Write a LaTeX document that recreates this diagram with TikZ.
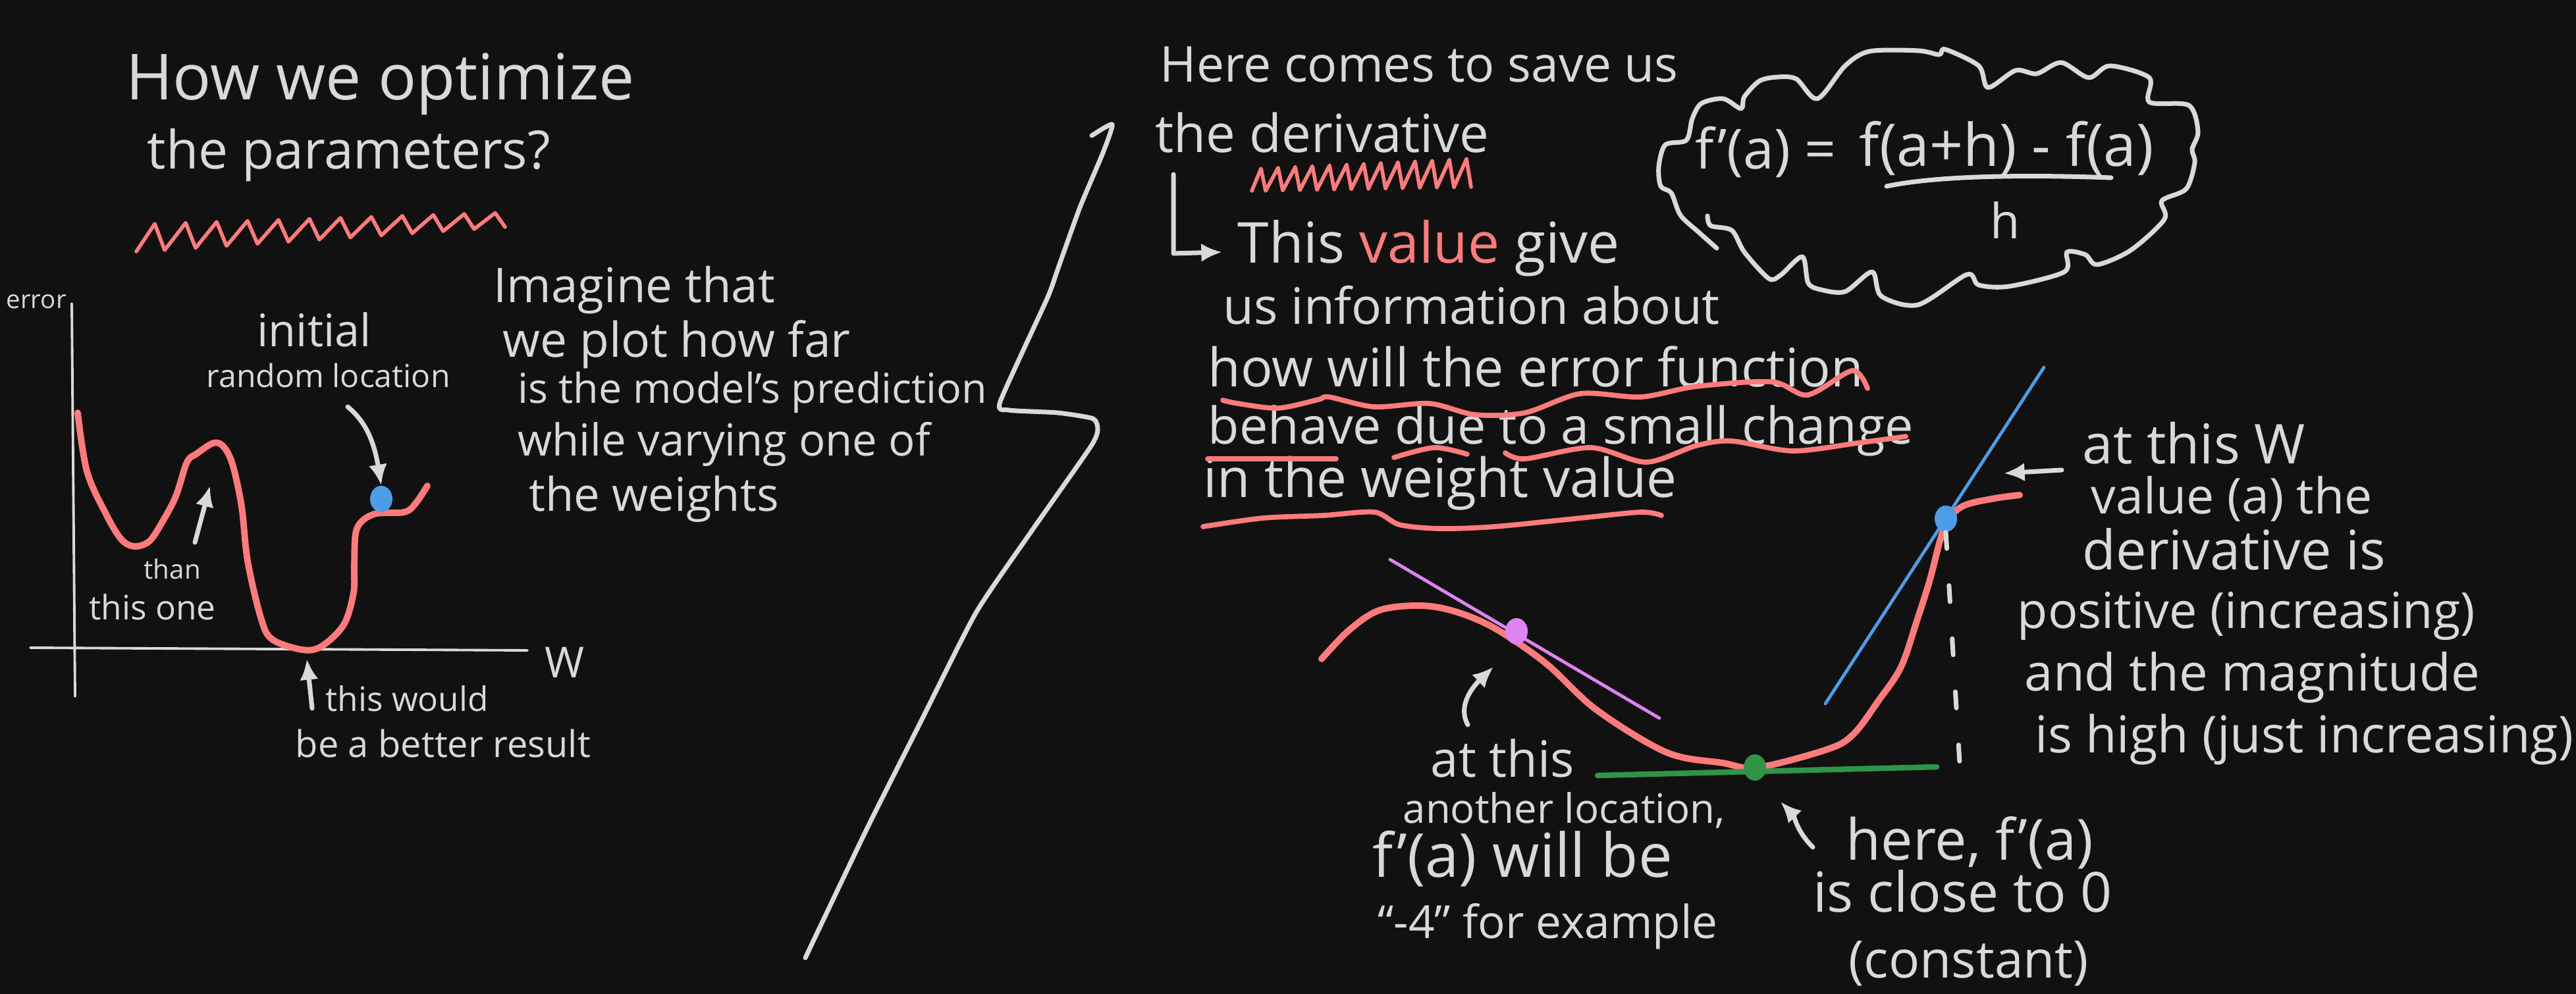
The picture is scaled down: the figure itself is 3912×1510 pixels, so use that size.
\documentclass[tikz,border=0pt]{standalone}
\usepackage{fontspec}
\setmainfont{Open Sans}
\usetikzlibrary{arrows.meta,shapes.geometric}
\definecolor{bg}{HTML}{111111}
\definecolor{fg}{HTML}{D9D9D9}
\definecolor{salmon}{HTML}{FF7B7B}
\definecolor{sky}{HTML}{4E9CE6}
\definecolor{lilac}{HTML}{DD84F2}
\definecolor{leaf}{HTML}{2F9447}
\newlength\pxu
\setlength\pxu{0.01cm}
\newcommand\hw[2]{\resizebox{#1\pxu}{!}{#2}}
\tikzset{
  txt/.style={anchor=base west, inner sep=0pt, text=fg},
  axisline/.style={draw=fg, line width=1.1pt, line cap=round},
  pen/.style={draw=fg, line width=2pt, line cap=round, line join=round},
  arr/.style={pen, -{Latex[length=9pt, width=8pt]}},
  errline/.style={draw=salmon, line width=2.8pt, line cap=round, line join=round},
  scrib/.style={draw=salmon, line width=1.6pt, line cap=round, line join=round},
  wave/.style={draw=salmon, line width=2.2pt, line cap=round, line join=round},
  tangent/.style={line width=1.4pt, line cap=round},
  ball/.style={ellipse, inner sep=0pt, minimum width=0.34cm, minimum height=0.4cm},
}
\begin{document}
\begin{tikzpicture}[x=0.01cm, y=-0.01cm]
  \fill[fill=bg] (0,0) rectangle (3912,1510);
  \useasboundingbox (0,0) rectangle (3912,1510);

  % left half: the question and the error landscape
  \node[txt] (ttlA) at (191,152) {\hw{772}{How we optimize}};
  \node[txt] (ttlB) at (223,257) {\hw{612}{the parameters?}};
  \draw[scrib] (207,382) \foreach \i in {0,...,11} { -- ({235+47*\i},{340-1.5*\i}) -- ({250+47*\i},{380-3.2*\i}) };

  \node[txt] (errlbl) at (9,469) {\hw{91}{error}};
  \node[txt] (wlbl) at (827,1030) {\hw{60}{W}};
  \draw[axisline] (109,461) -- (114,1058);
  \draw[axisline] (46,984) -- (801,988);

  \draw[errline] plot[smooth, tension=0.55] coordinates {
    (118,627) (132,716) (161,781) (184,819) (204,830) (227,822) (247,792)
    (267,754) (284,702) (299,689) (324,673) (339,678) (353,705) (367,770)
    (376,852) (396,938) (413,971) (459,987) (488,982) (522,949) (537,900)
    (538,857) (542,803) (568,781) (614,778) (631,765) (649,738)};
  \node[ball, fill=sky] (start) at (579,758) {};

  \node[txt] (iniA) at (390,527) {\hw{173}{initial}};
  \node[txt] (iniB) at (313,589) {\hw{370}{random location}};
  \draw[arr] (528,618) .. controls (555,640) and (568,670) .. (start.north);

  \node[txt] (thanA) at (218,880) {\hw{86}{than}};
  \node[txt] (thanB) at (135,942) {\hw{192}{this one}};
  \draw[arr] (296,824) -- (319,738);

  \node[txt] (betA) at (494,1080) {\hw{247}{this would}};
  \node[txt] (betB) at (448,1150) {\hw{448}{be a better result}};
  \draw[arr] (474,1076) -- (466,1001);

  \node[txt] (imA) at (749,460) {\hw{427}{Imagine that}};
  \node[txt] (imB) at (763,543) {\hw{528}{we plot how far}};
  \node[txt] (imC) at (786,613) {\hw{712}{is the model's prediction}};
  \node[txt] (imD) at (786,693) {\hw{626}{while varying one of}};
  \node[txt] (imE) at (803,777) {\hw{379}{the weights}};

  % the big bracket
  \draw[pen] plot[smooth, tension=0.35] coordinates {
    (1658,206) (1689,189) (1675,232) (1640,315) (1606,410) (1590,454)
    (1519,610) (1532,623) (1606,627) (1660,636) (1667,653) (1656,679)
    (1565,809) (1482,931) (1399,1095) (1316,1260) (1223,1455)};

  % right half: the derivative
  \node[txt] (drA) at (1761,125) {\hw{787}{Here comes to save us}};
  \node[txt] (drB) at (1754,232) {\hw{507}{the derivative}};
  \draw[scrib] (1901,290) \foreach \i in {0,...,12} { -- ({1915+26*\i},{256-1.2*\i}) -- ({1922+26*\i},{290-0.5*\i}) };

  \draw[arr] (1782,265) -- (1782,385) -- (1856,383);
  \node[txt] (vlA) at (1879,400) {\hw{580}{This \textcolor{salmon}{value} give}};
  \node[txt] (vlB) at (1857,493) {\hw{754}{us information about}};
  \node[txt] (vlC) at (1834,588) {\hw{995}{how will the error function}};
  \node[txt] (vlD) at (1834,675) {\hw{1071}{behave due to a small change}};
  \node[txt] (vlE) at (1827,756) {\hw{719}{in the weight value}};

  \draw[wave] plot[smooth, tension=0.5] coordinates {
    (1857,608) (1880,613) (1941,620) (2002,607) (2018,603) (2087,618)
    (2171,613) (2240,630) (2316,627) (2400,598) (2492,603) (2576,587)
    (2691,580) (2745,600) (2813,563) (2836,590)};
  \draw[wave] (1834,697) -- (2029,697);
  \draw[wave] plot[smooth] coordinates {(2117,695) (2178,680) (2228,690)};
  \draw[wave] plot[smooth, tension=0.5] coordinates {
    (2286,688) (2316,697) (2416,680) (2500,702) (2576,677) (2630,670)
    (2722,685) (2821,673) (2894,663)};
  \draw[wave] plot[smooth, tension=0.5] coordinates {
    (1827,800) (1918,787) (2010,783) (2087,778) (2125,797) (2186,803)
    (2270,800) (2400,787) (2492,778) (2523,783)};

  % the formula in its cloud
  \draw[pen] plot[smooth, tension=0.5] coordinates {
    (2593,328) (2598,343) (2630,350) (2649,383) (2686,423) (2704,418)
    (2737,390) (2746,430) (2765,440) (2802,443) (2843,413) (2857,450)
    (2913,463) (2987,417) (3005,433) (3051,435) (3135,413) (3139,383)
    (3167,387) (3185,402) (3236,380) (3287,333) (3283,305) (3320,287)
    (3333,247) (3329,227) (3338,200) (3324,160) (3264,155) (3264,118)
    (3204,100) (3172,118) (3130,95) (3093,112) (3061,107) (3019,133)
    (3005,100) (2954,75) (2945,83) (2913,77) (2839,78) (2802,100)
    (2760,150) (2728,120) (2700,117) (2672,123) (2649,147) (2644,165)
    (2617,150) (2584,157) (2570,180) (2561,213) (2529,220) (2519,253)
    (2522,283) (2538,293) (2552,327) (2580,353) (2607,377)};
  \node[txt] (fl) at (2574,257) {\hw{214}{f'(a) =}};
  \node[txt] (fnum) at (2823,253) {\hw{447}{f(a+h) - f(a)}};
  \draw[pen] (2865,283) .. controls (2950,265) and (3100,266) .. (3206,270);
  \node[txt] (fden) at (3022,363) {\resizebox{!}{56\pxu}{h}};

  % the second curve with its tangents
  \draw[errline] plot[smooth, tension=0.55] coordinates {
    (2007,1001) (2049,957) (2095,927) (2157,920) (2210,929) (2271,955)
    (2348,1008) (2424,1078) (2531,1143) (2616,1159) (2669,1166) (2776,1138)
    (2815,1115) (2853,1064) (2887,1013) (2912,940) (2931,880) (2948,815)
    (2962,785) (2985,767) (3030,757) (3067,752)};
  \draw[tangent, draw=lilac] (2111,850) -- (2520,1091);
  \draw[tangent, draw=sky] (3104,558) -- (2772,1069);
  \draw[tangent, draw=leaf, line width=2.4pt] (2426,1178) -- (2941,1165);
  \node[ball, fill=lilac] (neg) at (2303,959) {};
  \node[ball, fill=leaf] (flat) at (2665,1166) {};
  \node[ball, fill=sky] (steep) at (2955,788) {};
  \draw[pen, dash pattern=on 7pt off 16pt] (steep.south) -- (2979,1210);

  \node[txt] (negA) at (2172,1180) {\hw{218}{at this}};
  \node[txt] (negB) at (2130,1250) {\hw{489}{another location,}};
  \node[txt] (negC) at (2084,1332) {\hw{455}{f'(a) will be}};
  \node[txt] (negD) at (2092,1425) {\hw{516}{“-4” for example}};
  \draw[arr] (2229,1101) .. controls (2212,1070) and (2240,1040) .. (2268,1013);

  \node[txt] (flA) at (2803,1306) {\hw{375}{here, f'(a)}};
  \node[txt] (flB) at (2753,1385) {\hw{454}{is close to 0}};
  \node[txt] (flC) at (2807,1485) {\hw{364}{(constant)}};
  \draw[arr] (2753,1287) .. controls (2728,1262) and (2725,1240) .. (2704,1218);

  \node[txt] (stA) at (3162,705) {\hw{338}{at this W}};
  \node[txt] (stB) at (3175,781) {\hw{427}{value (a) the}};
  \node[txt] (stC) at (3162,866) {\hw{460}{derivative is}};
  \node[txt] (stD) at (3063,955) {\hw{695}{positive (increasing)}};
  \node[txt] (stE) at (3074,1049) {\hw{691}{and the magnitude}};
  \node[txt] (stF) at (3090,1143) {\hw{817}{is high (just increasing)}};
  \draw[arr] (3131,714) -- (3043,719);
\end{tikzpicture}
\end{document}
